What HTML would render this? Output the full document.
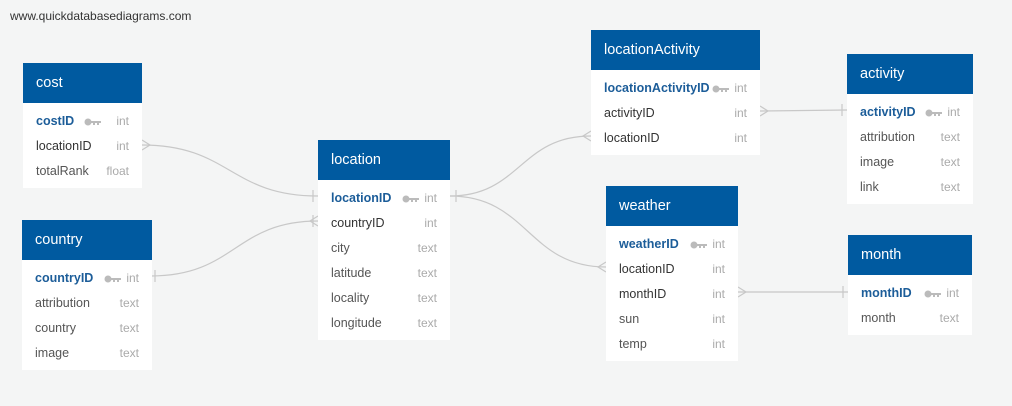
<!DOCTYPE html>
<html><head><meta charset="utf-8"><style>
*{margin:0;padding:0;box-sizing:border-box}
body{width:1012px;height:406px;background:#f4f5f5;position:relative;overflow:hidden;font-family:"Liberation Sans",Arial,sans-serif}
.url{position:absolute;left:10px;top:9px;font-size:12px;color:#333}
.t{position:absolute;background:#fff}
.h{background:#005aa0;color:#fff;height:40px;font-size:14.5px;line-height:41px;padding-left:13px}
.b{padding:6px 0 4px}
.r{height:25px;line-height:25px;font-size:12.5px;color:#555;padding:0 13px;position:relative}
.r .n{position:absolute;left:13px}
.r .ty{position:absolute;right:13px;color:#aaa;font-size:12px}
.pk .n{color:#1c5d99;font-weight:bold}
.fk .n{color:#333}
.key{position:absolute;top:9px;width:18px;height:8px}
svg.c{position:absolute;left:0;top:0}
</style></head><body>
<div class="url">www.quickdatabasediagrams.com</div>
<svg class="c" width="1012" height="406" fill="none" stroke="#c8c8c8" stroke-width="1.2">
<path d="M142,145 C230,145 230,196 318,196"/>
<path d="M151,276 C235,276 235,221 318,221"/>
<path d="M450,196 C520,196 520,136 591,136"/>
<path d="M450,196 C528,196 528,267 606,267"/>
<path d="M760,111 L847,110"/>
<path d="M738,292 L848,292"/>
<path d="M313,190V202M313,215V227M155,270V282M456,190V202M842,104V116M843,286V298"/>
<path d="M142,140L150,145L142,150M318,216L310,221L318,226M591,131L583,136L591,141M606,262L598,267L606,272M760,106L768,111L760,116M738,287L746,292L738,297"/>
</svg>

<div class="t" style="left:23px;top:63px;width:119px"><div class="h">cost</div><div class="b">
<div class="r pk"><span class="n">costID</span><svg class="key" style="right:40px" viewBox="0 0 18 8"><circle cx="4" cy="4" r="3.5" fill="#bbb"/><path d="M6,3h11v2h-2v2h-2v-2h-2v2h-2v-2H6z" fill="#bbb"/></svg><span class="ty">int</span></div>
<div class="r fk"><span class="n">locationID</span><span class="ty">int</span></div>
<div class="r"><span class="n">totalRank</span><span class="ty">float</span></div></div></div>

<div class="t" style="left:22px;top:220px;width:130px"><div class="h">country</div><div class="b">
<div class="r pk"><span class="n">countryID</span><svg class="key" style="right:30px" viewBox="0 0 18 8"><circle cx="4" cy="4" r="3.5" fill="#bbb"/><path d="M6,3h11v2h-2v2h-2v-2h-2v2h-2v-2H6z" fill="#bbb"/></svg><span class="ty">int</span></div>
<div class="r"><span class="n">attribution</span><span class="ty">text</span></div>
<div class="r"><span class="n">country</span><span class="ty">text</span></div>
<div class="r"><span class="n">image</span><span class="ty">text</span></div></div></div>

<div class="t" style="left:318px;top:140px;width:132px"><div class="h">location</div><div class="b">
<div class="r pk"><span class="n">locationID</span><svg class="key" style="right:30px" viewBox="0 0 18 8"><circle cx="4" cy="4" r="3.5" fill="#bbb"/><path d="M6,3h11v2h-2v2h-2v-2h-2v2h-2v-2H6z" fill="#bbb"/></svg><span class="ty">int</span></div>
<div class="r fk"><span class="n">countryID</span><span class="ty">int</span></div>
<div class="r"><span class="n">city</span><span class="ty">text</span></div>
<div class="r"><span class="n">latitude</span><span class="ty">text</span></div>
<div class="r"><span class="n">locality</span><span class="ty">text</span></div>
<div class="r"><span class="n">longitude</span><span class="ty">text</span></div></div></div>

<div class="t" style="left:591px;top:30px;width:169px"><div class="h">locationActivity</div><div class="b">
<div class="r pk"><span class="n">locationActivityID</span><svg class="key" style="right:30px" viewBox="0 0 18 8"><circle cx="4" cy="4" r="3.5" fill="#bbb"/><path d="M6,3h11v2h-2v2h-2v-2h-2v2h-2v-2H6z" fill="#bbb"/></svg><span class="ty">int</span></div>
<div class="r fk"><span class="n">activityID</span><span class="ty">int</span></div>
<div class="r fk"><span class="n">locationID</span><span class="ty">int</span></div></div></div>

<div class="t" style="left:847px;top:54px;width:126px"><div class="h">activity</div><div class="b">
<div class="r pk"><span class="n">activityID</span><svg class="key" style="right:30px" viewBox="0 0 18 8"><circle cx="4" cy="4" r="3.5" fill="#bbb"/><path d="M6,3h11v2h-2v2h-2v-2h-2v2h-2v-2H6z" fill="#bbb"/></svg><span class="ty">int</span></div>
<div class="r"><span class="n">attribution</span><span class="ty">text</span></div>
<div class="r"><span class="n">image</span><span class="ty">text</span></div>
<div class="r"><span class="n">link</span><span class="ty">text</span></div></div></div>

<div class="t" style="left:606px;top:186px;width:132px"><div class="h">weather</div><div class="b">
<div class="r pk"><span class="n">weatherID</span><svg class="key" style="right:30px" viewBox="0 0 18 8"><circle cx="4" cy="4" r="3.5" fill="#bbb"/><path d="M6,3h11v2h-2v2h-2v-2h-2v2h-2v-2H6z" fill="#bbb"/></svg><span class="ty">int</span></div>
<div class="r fk"><span class="n">locationID</span><span class="ty">int</span></div>
<div class="r fk"><span class="n">monthID</span><span class="ty">int</span></div>
<div class="r"><span class="n">sun</span><span class="ty">int</span></div>
<div class="r"><span class="n">temp</span><span class="ty">int</span></div></div></div>

<div class="t" style="left:848px;top:235px;width:124px"><div class="h">month</div><div class="b">
<div class="r pk"><span class="n">monthID</span><svg class="key" style="right:30px" viewBox="0 0 18 8"><circle cx="4" cy="4" r="3.5" fill="#bbb"/><path d="M6,3h11v2h-2v2h-2v-2h-2v2h-2v-2H6z" fill="#bbb"/></svg><span class="ty">int</span></div>
<div class="r"><span class="n">month</span><span class="ty">text</span></div></div></div>
</body></html>
